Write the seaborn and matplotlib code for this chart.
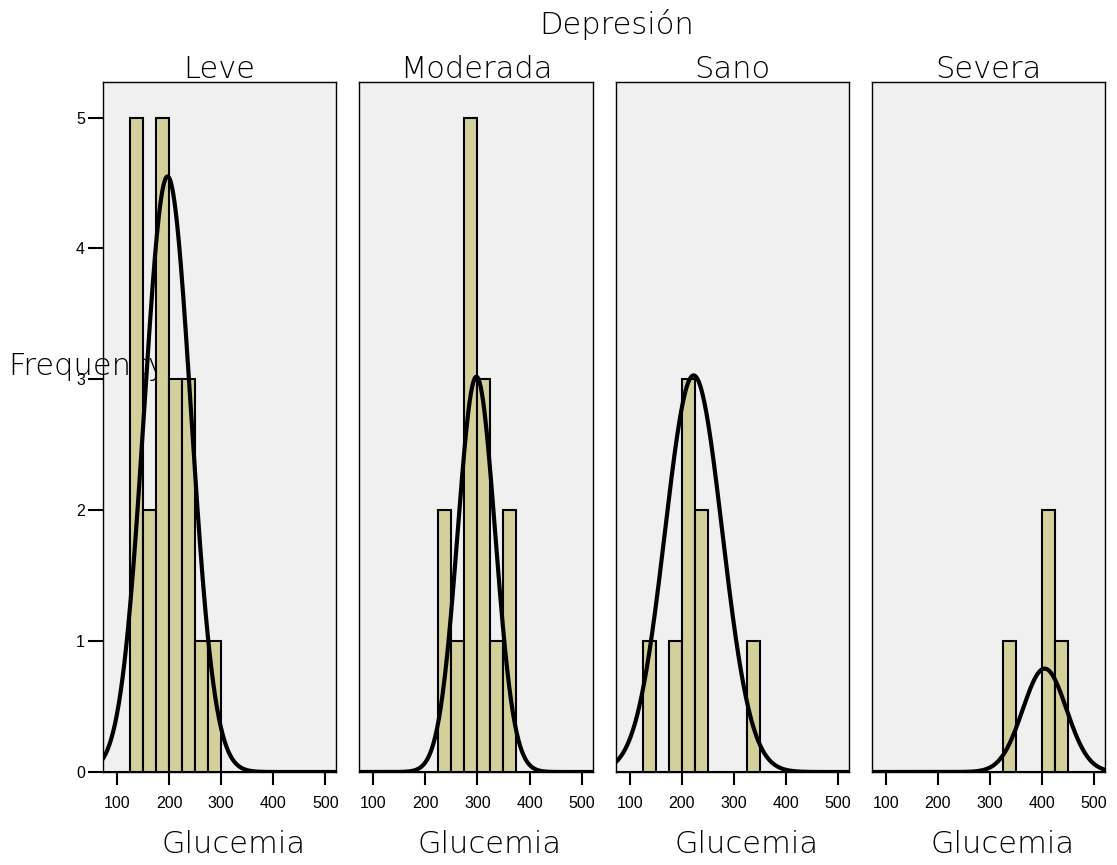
import numpy as np
import pandas as pd
import matplotlib
matplotlib.use("Agg")
import matplotlib.pyplot as plt
import seaborn as sns

# --- data (bins are 25 wide, left edges)
groups = ["Leve", "Moderada", "Sano", "Severa"]

leve_bins = [125, 150, 175, 200, 225, 250, 275]
leve_counts = [5, 2, 5, 3, 3, 1, 1]
moderada_bins = [225, 250, 275, 300, 325, 350]
moderada_counts = [2, 1, 5, 3, 1, 2]
sano_bins = [125, 175, 200, 225, 325]
sano_counts = [1, 1, 3, 2, 1]
severa_bins = [325, 400, 425]
severa_counts = [1, 2, 1]

# normal curves drawn over each histogram
curve_mean = [197, 298, 223, 405]
curve_sd = [45, 36, 55, 42]
curve_peak = [4.55, 3.02, 3.03, 0.79]

x_ticks = [100, 200, 300, 400, 500]
y_ticks = [0, 1, 2, 3, 4, 5]

binw = 25
bins_all = [leve_bins, moderada_bins, sano_bins, severa_bins]
counts_all = [leve_counts, moderada_counts, sano_counts, severa_counts]

rows = []
for grp, bl, cn in zip(groups, bins_all, counts_all):
    for b, c in zip(bl, cn):
        rows.append({"Depresión": grp, "Glucemia": b + binw / 2, "n": c})
df = pd.DataFrame(rows)

sns.set_style("white")
plt.rcParams["text.color"] = "black"
plt.rcParams["xtick.color"] = "black"
plt.rcParams["ytick.color"] = "black"
title_font = ["DejaVu Sans"]
tick_font = ["Liberation Sans", "DejaVu Sans"]
tfs = 22

bar_color = "#d4d09c"

g = sns.FacetGrid(df, col="Depresión", col_order=groups, sharey=True,
                  sharex=True, despine=False, height=8, aspect=0.35)
g.map_dataframe(sns.histplot, x="Glucemia", weights="n", binwidth=binw,
                binrange=(0, 600), color=bar_color, alpha=1,
                edgecolor="black", linewidth=1.5)

fig = g.figure
fig.set_size_inches(11.17, 8.65)
fig.subplots_adjust(left=0.0922, right=0.9893, top=0.905, bottom=0.1075,
                    wspace=0.0987)

xs = np.linspace(60, 540, 400)
for i, ax in enumerate(g.axes.flat):
    ax.set_facecolor("#f0f0f0")
    ys = curve_peak[i] * np.exp(-0.5 * ((xs - curve_mean[i]) / curve_sd[i]) ** 2)
    ax.plot(xs, ys, color="black", lw=3, zorder=3)
    ax.set_xlim(73, 521)
    ax.set_ylim(0, 5.27)
    ax.set_xticks(x_ticks)
    ax.set_xticklabels([str(v) for v in x_ticks], family=tick_font,
                       fontsize=11.5, color="black")
    ax.tick_params(axis="x", direction="out", length=9, width=1.5,
                   color="black", bottom=True, pad=8)
    ax.set_title(groups[i], family=title_font, fontweight="light",
                 fontsize=tfs, pad=3, color="black")
    ax.set_xlabel("Glucemia", family=title_font, fontweight="light",
                  fontsize=tfs, color="black")
    ax.xaxis.set_label_coords(0.56, -0.084)
    ax.set_ylabel("")
    for s in ax.spines.values():
        s.set_color("black")
        s.set_linewidth(1)
    if i == 0:
        ax.set_yticks(y_ticks)
        ax.set_yticklabels([str(v) for v in y_ticks], family=tick_font,
                           fontsize=11.5, color="black")
        ax.tick_params(axis="y", direction="out", length=11, width=1.5,
                       color="black", left=True, pad=2)
        ax.text(8 / 1117, 1 - 367 / 865, "Frequency", transform=fig.transFigure,
                family=title_font, fontweight="light", fontsize=tfs,
                color="black", ha="left", va="center", zorder=0.5,
                clip_on=False)
    else:
        ax.tick_params(axis="y", left=False, labelleft=False)

fig.text(0.552, 1 - 24 / 865, "Depresión", family=title_font,
         fontweight="light", fontsize=tfs, color="black",
         ha="center", va="center")

fig.savefig("out.png", dpi=100, facecolor="white")
